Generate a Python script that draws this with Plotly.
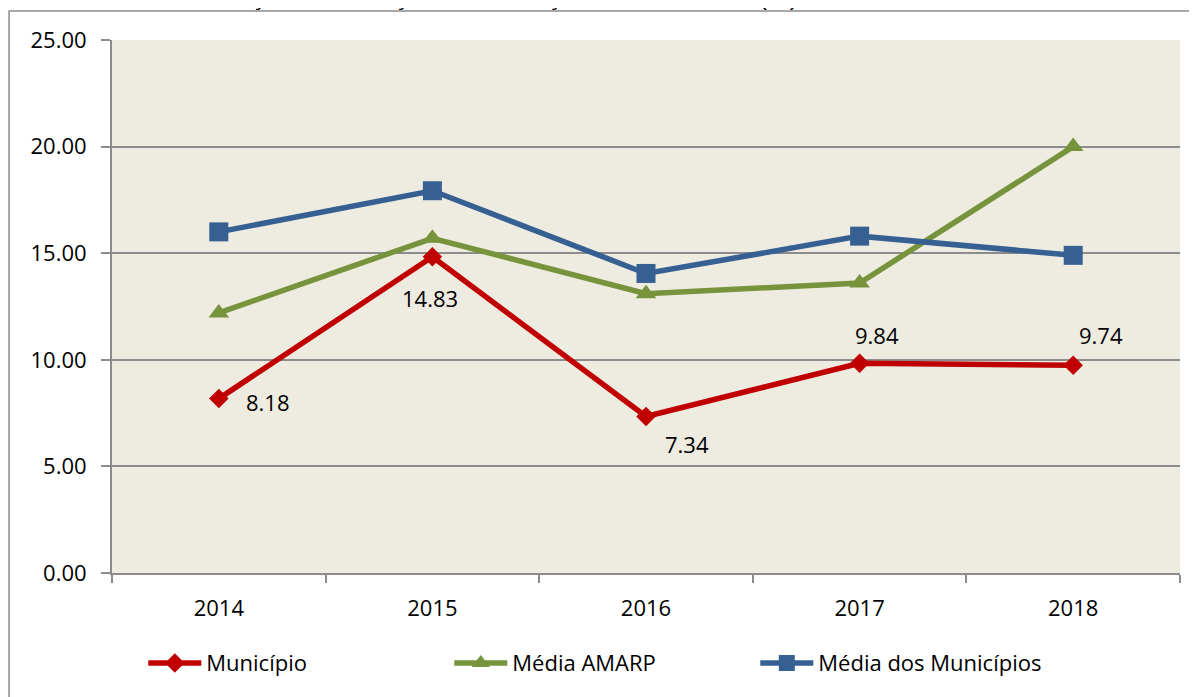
import plotly.graph_objects as go

years = ["2014", "2015", "2016", "2017", "2018"]
municipio = [8.18, 14.83, 7.34, 9.84, 9.74]
media_amarp = [12.20, 15.70, 13.10, 13.60, 20.00]
media_municipios = [16.00, 17.93, 14.05, 15.80, 14.90]
label_text = ["8.18", "14.83", "7.34", "9.84", "9.74"]
y_ticks = [0, 5, 10, 15, 20, 25]
y_tick_text = ["0.00", "5.00", "10.00", "15.00", "20.00", "25.00"]

FONT = "'Open Sans', 'Noto Sans', sans-serif"
FS = 22
RED = "#C00000"
GREEN = "#77933C"
BLUE = "#376092"

fig = go.Figure()
fig.add_trace(go.Scatter(
    x=years, y=municipio, name="Município", mode="lines+markers",
    line=dict(color=RED, width=5.5),
    marker=dict(symbol="diamond", size=15, color=RED),
))
fig.add_trace(go.Scatter(
    x=years, y=media_amarp, name="Média AMARP", mode="lines+markers",
    line=dict(color=GREEN, width=5.5),
    marker=dict(symbol="triangle-up", size=18, color=GREEN),
))
fig.add_trace(go.Scatter(
    x=years, y=media_municipios, name="Média dos Municípios", mode="lines+markers",
    line=dict(color=BLUE, width=5.5),
    marker=dict(symbol="square", size=19, color=BLUE),
))

# data labels for Município (category index positions)
offsets = [(49, -3), (-2, -41), (41, -27), (17, 28), (28, 30)]
for i, (y, t, (dx, dy)) in enumerate(zip(municipio, label_text, offsets)):
    fig.add_annotation(x=i, y=y, xref="x", yref="y", text=t, showarrow=False,
                       xshift=dx, yshift=dy,
                       font=dict(family=FONT, size=FS, color="#000000"))

# title (cut off at the top edge, as in the reference)
fig.add_annotation(
    xref="paper", yref="paper", x=-0.095, y=1.052, xanchor="left", yanchor="bottom",
    text="<b>Gráfico 07</b>  –   Evolução do Esforço de Cobrança da Dívida Ativa (%): 2014  –  2018",
    showarrow=False, font=dict(family="'Liberation Sans', Arial, sans-serif", size=25.5, color="#000000"),
)

# outer chart frame
fig.add_shape(type="rect", xref="paper", yref="paper",
              x0=-0.0964, x1=1.03, y0=-0.25, y1=1.0544,
              line=dict(color="#8C8C8C", width=1.5), fillcolor="rgba(0,0,0,0)", layer="below")

fig.update_layout(
    width=1189, height=689,
    margin=dict(l=104, r=17, t=32, b=124, autoexpand=False),
    paper_bgcolor="white",
    plot_bgcolor="#EEECE1",
    font=dict(family=FONT, size=FS, color="#000000"),
    showlegend=True,
    legend=dict(orientation="h", x=0.0293, xanchor="left", y=-0.169, yanchor="middle",
                font=dict(family=FONT, size=FS), entrywidth=238, itemwidth=53,
                bgcolor="rgba(0,0,0,0)"),
    xaxis=dict(
        type="category", range=[-0.5, 4.5], showgrid=False,
        showline=True, linecolor="#8C8C8C", linewidth=2,
        ticks="outside", ticklen=8, tickcolor="#8C8C8C", tickwidth=2,
        tickson="boundaries", ticklabelstandoff=15,
        tickfont=dict(family=FONT, size=FS),
    ),
    yaxis=dict(
        range=[0, 25], tickvals=y_ticks, ticktext=y_tick_text,
        showgrid=True, gridcolor="#8C8C8C", gridwidth=2,
        showline=True, linecolor="#8C8C8C", linewidth=2,
        ticks="outside", ticklen=9, tickcolor="#8C8C8C", tickwidth=2,
        ticklabelstandoff=10, zeroline=False,
        tickfont=dict(family=FONT, size=FS),
    ),
)

fig.write_html("out.html")
